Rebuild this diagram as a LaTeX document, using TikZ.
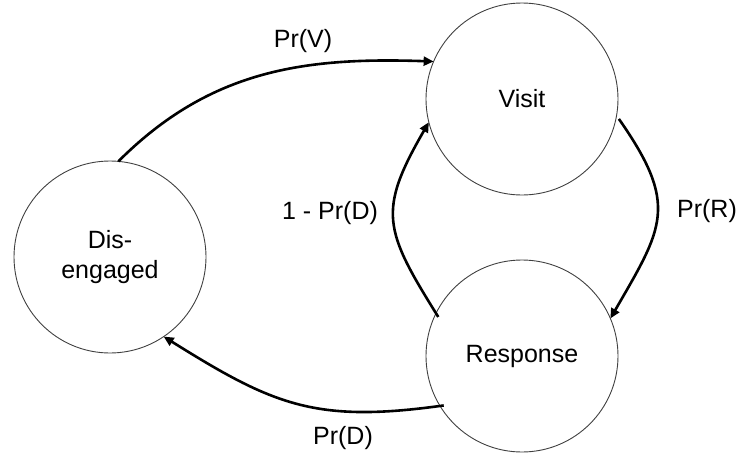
\documentclass[tikz,border=0pt]{standalone}
\usepackage{fontspec}
\setmainfont{Liberation Sans}
\usetikzlibrary{arrows.meta}
\begin{document}
\begin{tikzpicture}[x=1pt,y=-1pt,font=\fontsize{25}{30}\selectfont,
	state/.style={circle,draw=black!75,line width=0.9pt,minimum size=192pt,inner sep=0pt,outer sep=0pt,align=center},
	trans/.style={line width=2.6pt,-{Triangle[length=10pt,width=9pt]}}]
	\useasboundingbox (0,0) rectangle (740,458);
	\node[state] (visit) at (522,99) {Visit};
	\node[state] (resp) at (522,356) {Response};
	\node[state] (dis) at (110,257) {Dis-\\engaged};
	\draw[trans] (dis.85) to[out=45,in=178] (visit.157);
	\draw[trans] ([shift={(3,0)}]visit.-12) to[out=-55,in=60,looseness=1.35] (resp.23);
	\draw[trans] ([shift={(4,0)}]resp.156) to[out=122,in=-120,looseness=1.35] (visit.-166);
	\draw[trans] ([shift={(4,0)}]resp.-149) to[out=188,in=-32,looseness=1.15] (dis.-56);
	% labels
	\node (pv) at (303,41) {Pr(V)};
	\node (pr) at (707,211) {Pr(R)};
	\node (npd) at (330,213) {1 - Pr(D)};
	\node (pd) at (343,438) {Pr(D)};
\end{tikzpicture}
\end{document}
